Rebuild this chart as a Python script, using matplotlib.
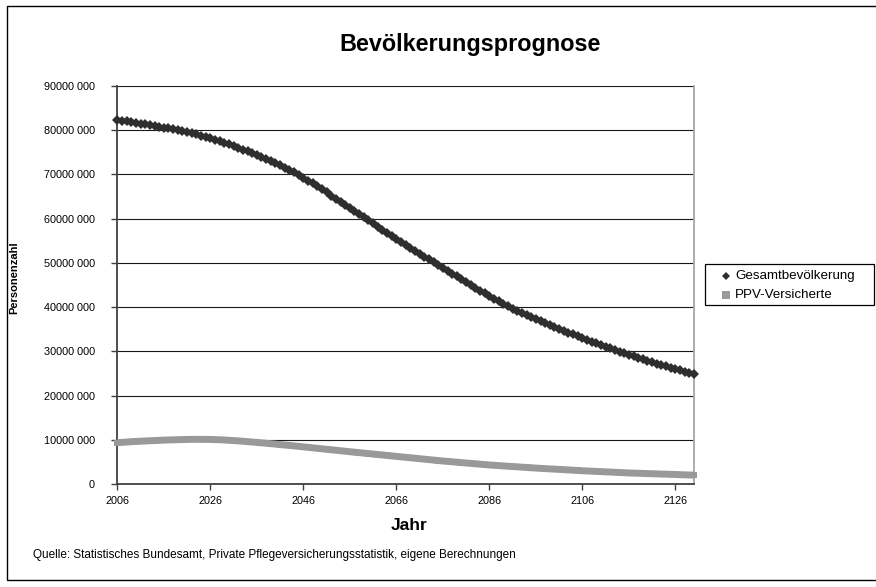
import matplotlib
matplotlib.use("Agg")
import matplotlib.pyplot as plt
from matplotlib.patches import Rectangle
from matplotlib.lines import Line2D
from matplotlib.ticker import FuncFormatter, FixedLocator

plt.rcParams['font.family'] = ['Liberation Sans', 'DejaVu Sans']

years = list(range(2006, 2131))

# Gesamtbevölkerung in Millionen
gesamt_mio = [
    82.30, 82.15, 82.00, 81.84, 81.68, 81.51, 81.34, 81.16, 80.98, 80.79,
    80.60, 80.40, 80.20, 79.99, 79.77, 79.54, 79.30, 79.05, 78.79, 78.51,
    78.21, 77.89, 77.55, 77.19, 76.81, 76.41, 76.02, 75.62, 75.21, 74.79,
    74.36, 73.93, 73.50, 73.05, 72.58, 72.08, 71.56, 71.01, 70.44, 69.85,
    69.24, 68.61, 67.96, 67.29, 66.61, 65.92, 65.22, 64.52, 63.82, 63.12,
    62.42, 61.72, 61.02, 60.32, 59.62, 58.92, 58.22, 57.52, 56.82, 56.12,
    55.42, 54.72, 54.04, 53.37, 52.71, 52.06, 51.41, 50.77, 50.13, 49.49,
    48.85, 48.21, 47.57, 46.93, 46.29, 45.65, 45.01, 44.37, 43.73, 43.09,
    42.47, 41.87, 41.29, 40.73, 40.19, 39.67, 39.17, 38.69, 38.22, 37.76,
    37.30, 36.85, 36.40, 35.96, 35.52, 35.09, 34.66, 34.24, 33.82, 33.41,
    33.00, 32.60, 32.20, 31.81, 31.42, 31.04, 30.66, 30.29, 29.93, 29.57,
    29.22, 28.87, 28.53, 28.19, 27.86, 27.53, 27.21, 26.89, 26.58, 26.27,
    25.97, 25.67, 25.38, 25.09, 24.81,
]

# PPV-Versicherte in Millionen
ppv_mio = [
    9.35, 9.42, 9.49, 9.56, 9.62, 9.68, 9.73, 9.78, 9.83, 9.88,
    9.92, 9.96, 9.99, 10.02, 10.05, 10.07, 10.09, 10.10, 10.10, 10.09,
    10.07, 10.04, 10.00, 9.95, 9.89, 9.82, 9.75, 9.67, 9.58, 9.49,
    9.40, 9.31, 9.22, 9.12, 9.02, 8.92, 8.82, 8.72, 8.61, 8.51,
    8.40, 8.29, 8.18, 8.07, 7.96, 7.85, 7.74, 7.63, 7.52, 7.41,
    7.30, 7.19, 7.09, 6.98, 6.88, 6.77, 6.67, 6.56, 6.46, 6.35,
    6.25, 6.14, 6.04, 5.93, 5.83, 5.72, 5.62, 5.51, 5.41, 5.30,
    5.20, 5.11, 5.02, 4.93, 4.84, 4.75, 4.66, 4.57, 4.48, 4.39,
    4.30, 4.23, 4.16, 4.09, 4.02, 3.95, 3.88, 3.81, 3.74, 3.67,
    3.60, 3.54, 3.48, 3.42, 3.36, 3.30, 3.24, 3.18, 3.12, 3.06,
    3.00, 2.95, 2.90, 2.85, 2.80, 2.75, 2.70, 2.65, 2.60, 2.55,
    2.50, 2.46, 2.43, 2.39, 2.36, 2.32, 2.29, 2.25, 2.22, 2.18,
    2.15, 2.11, 2.07, 2.04, 2.00,
]

x_ticks = [2006, 2026, 2046, 2066, 2086, 2106, 2126]
y_ticks = [0, 10e6, 20e6, 30e6, 40e6, 50e6, 60e6, 70e6, 80e6, 90e6]

title = "Bevölkerungsprognose"
x_label = "Jahr"
y_label = "Personenzahl"
series_names = ["Gesamtbevölkerung", "PPV-Versicherte"]
source = "Quelle: Statistisches Bundesamt, Private Pflegeversicherungsstatistik, eigene Berechnungen"

W, H = 876, 587
fig = plt.figure(figsize=(W / 100, H / 100), dpi=100)
fig.patch.set_facecolor("white")

def fx(px):
    return px / W

def fy(py):
    return 1 - py / H

# outer chart border
fig.add_artist(Rectangle((fx(7), fy(580)), fx(880) - fx(7), fy(6) - fy(580),
                         transform=fig.transFigure, fill=False,
                         edgecolor="black", linewidth=1.0, clip_on=False))

ax_l, ax_r, ax_t, ax_b = 117.3, 694, 86, 484
ax = fig.add_axes([fx(ax_l), fy(ax_b), fx(ax_r) - fx(ax_l), fy(ax_t) - fy(ax_b)])
ax.set_facecolor("white")

gesamt = [v * 1e6 for v in gesamt_mio]
ppv = [v * 1e6 for v in ppv_mio]

ax.plot(years, ppv, color="#999999", linewidth=5, solid_capstyle="butt", zorder=3,
        marker="s", markersize=4.5, markeredgewidth=0, clip_on=False)
ax.plot(years, gesamt, color="#333333", linewidth=2.2, zorder=4,
        marker="D", markersize=5.0, markeredgewidth=0, markerfacecolor="#2e2e2e",
        clip_on=False)

ax.set_xlim(2006, 2130)
ax.set_ylim(0, 90e6)
ax.xaxis.set_major_locator(FixedLocator(x_ticks))
ax.yaxis.set_major_locator(FixedLocator(y_ticks))

def yfmt(v, pos):
    if v == 0:
        return "0"
    return f"{int(round(v / 1000))} 000"

ax.yaxis.set_major_formatter(FuncFormatter(yfmt))
ax.grid(axis="y", color="#1a1a1a", linewidth=0.8, zorder=1)
ax.set_axisbelow(True)

ax.spines["top"].set_visible(False)
ax.spines["left"].set_color("#404040")
ax.spines["left"].set_linewidth(1.3)
ax.spines["bottom"].set_color("#404040")
ax.spines["bottom"].set_linewidth(1.3)
ax.spines["right"].set_color("#a6a6a6")
ax.spines["right"].set_linewidth(1.3)

ax.tick_params(axis="both", direction="out", length=4, width=1, color="#404040",
               labelsize=7.8, labelcolor="black")
ax.tick_params(axis="y", pad=12)
ax.tick_params(axis="x", pad=5)

fig.text(fx(470.5), fy(44), title, ha="center", va="center",
         fontsize=16.8, fontweight="bold")
fig.text(fx(409), fy(526), x_label, ha="center", va="center",
         fontsize=12.5, fontweight="bold")
fig.text(fx(14), fy(278), y_label, ha="center", va="center", rotation=90,
         fontsize=8, fontweight="bold")
fig.text(fx(33), fy(555), source, ha="left", va="center", fontsize=8.5)

# legend
fig.add_artist(Rectangle((fx(705), fy(305)), fx(874) - fx(705), fy(264) - fy(305),
                         transform=fig.transFigure, fill=True, facecolor="white",
                         edgecolor="black", linewidth=0.9, clip_on=False))
fig.add_artist(Line2D([fx(726)], [fy(275.5)], transform=fig.transFigure,
                      marker="D", markersize=4.5, color="#2e2e2e",
                      markeredgewidth=0, linestyle="none"))
fig.add_artist(Line2D([fx(726)], [fy(294.5)], transform=fig.transFigure,
                      marker="s", markersize=5.5, color="#999999",
                      markeredgewidth=0, linestyle="none"))
fig.text(fx(735), fy(275.5), series_names[0], ha="left", va="center", fontsize=9.6)
fig.text(fx(735), fy(294.5), series_names[1], ha="left", va="center", fontsize=9.6)

fig.savefig("out.png", dpi=100)
